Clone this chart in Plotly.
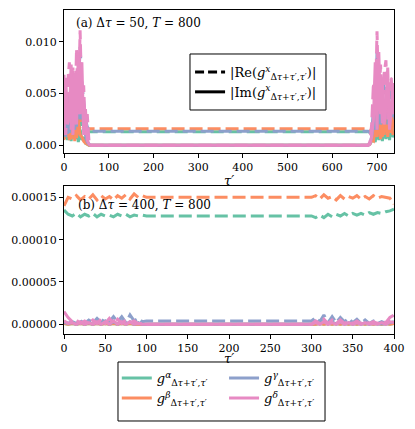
import plotly.graph_objects as go

# panel (a): Delta tau = 50, T = 800
tau_a = [0, 4, 8, 12, 16, 20, 24, 28, 32, 36, 40, 44, 48, 52, 56, 60,
         100, 200, 300, 400, 500, 600, 650,
         680, 684, 688, 692, 696, 700, 704, 708, 712, 716, 720, 724, 728, 732, 736, 740]

green_re_a = [0.0025, 0.0006, 0.0021, 0.0009, 0.0026, 0.0011, 0.0023, 0.0006, 0.0030, 0.0012, 0.0025, 0.0018, 0.0015, 0.0013, 0.0013, 0.0013,
              0.0013, 0.0013, 0.0013, 0.0013, 0.0013, 0.0013, 0.0013,
              0.0013, 0.0012, 0.0010, 0.0018, 0.0008, 0.0024, 0.0012, 0.0028, 0.0006, 0.0022, 0.0030, 0.0010, 0.0026, 0.0015, 0.0008, 0.0020]
orange_re_a = [0.0019, 0.0010, 0.0023, 0.0005, 0.0021, 0.0030, 0.0004, 0.0026, 0.0012, 0.0029, 0.0020, 0.0016, 0.0016, 0.0016, 0.0016, 0.0016,
               0.0016, 0.0016, 0.0016, 0.0016, 0.0016, 0.0016, 0.0016,
               0.0016, 0.0015, 0.0013, 0.0022, 0.0009, 0.0030, 0.0014, 0.0025, 0.0008, 0.0032, 0.0020, 0.0012, 0.0035, 0.0018, 0.0010, 0.0028]
blue_re_a = [0.0021, 0.0045, 0.0011, 0.0050, 0.0030, 0.0061, 0.0015, 0.0070, 0.0050, 0.0095, 0.0060, 0.0040, 0.0025, 0.0018, 0.0014, 0.00135,
             0.00135, 0.00135, 0.00135, 0.00135, 0.00135, 0.00135, 0.00135,
             0.00135, 0.0012, 0.0011, 0.0035, 0.0015, 0.0090, 0.0030, 0.0060, 0.0025, 0.0065, 0.0070, 0.0020, 0.0055, 0.0050, 0.0025, 0.0045]
pink_re_a = [0.0068, 0.0010, 0.0060, 0.0080, 0.0015, 0.0075, 0.0020, 0.0093, 0.0030, 0.0111, 0.0040, 0.0058, 0.0010, 0.0030, 0.0003, 0.0,
             0.0, 0.0, 0.0, 0.0, 0.0, 0.0, 0.0,
             0.0, 0.0003, 0.0020, 0.0060, 0.0030, 0.0110, 0.0040, 0.0078, 0.0020, 0.0070, 0.0082, 0.0025, 0.0065, 0.0064, 0.0030, 0.0055]

green_im_a = [0.0008, 0.0020, 0.0005, 0.0018, 0.0004, 0.0022, 0.0006, 0.0020, 0.0003, 0.0015, 0.0005, 0.0008, 0.0002, 0.0001, 0.0, 0.0,
              0.0, 0.0, 0.0, 0.0, 0.0, 0.0, 0.0,
              0.0, 0.0001, 0.0004, 0.0010, 0.0003, 0.0018, 0.0005, 0.0015, 0.0004, 0.0020, 0.0006, 0.0018, 0.0005, 0.0022, 0.0008, 0.0012]
orange_im_a = [0.0005, 0.0022, 0.0008, 0.0025, 0.0006, 0.0012, 0.0028, 0.0007, 0.0024, 0.0010, 0.0008, 0.0004, 0.0002, 0.0001, 0.0, 0.0,
               0.0, 0.0, 0.0, 0.0, 0.0, 0.0, 0.0,
               0.0, 0.0001, 0.0005, 0.0004, 0.0020, 0.0008, 0.0030, 0.0006, 0.0028, 0.0010, 0.0035, 0.0008, 0.0025, 0.0012, 0.0040, 0.0015]
blue_im_a = [0.0030, 0.0008, 0.0042, 0.0012, 0.0048, 0.0015, 0.0055, 0.0018, 0.0070, 0.0025, 0.0050, 0.0015, 0.0010, 0.0003, 0.0001, 0.0,
             0.0, 0.0, 0.0, 0.0, 0.0, 0.0, 0.0,
             0.0, 0.0002, 0.0008, 0.0020, 0.0045, 0.0015, 0.0060, 0.0020, 0.0050, 0.0030, 0.0040, 0.0060, 0.0020, 0.0040, 0.0045, 0.0025]
pink_im_a = [0.0010, 0.0065, 0.0020, 0.0030, 0.0078, 0.0010, 0.0070, 0.0020, 0.0090, 0.0030, 0.0080, 0.0010, 0.0035, 0.0005, 0.0001, 0.0,
             0.0, 0.0, 0.0, 0.0, 0.0, 0.0, 0.0,
             0.0, 0.0001, 0.0008, 0.0025, 0.0080, 0.0015, 0.0090, 0.0030, 0.0060, 0.0020, 0.0040, 0.0075, 0.0015, 0.0035, 0.0060, 0.0040]

# panel (b): Delta tau = 400, T = 800
tau_b = [0, 5, 10, 15, 20, 25, 30, 35, 40, 45, 50, 55, 60, 65, 70, 75, 80, 85, 90, 95, 100,
         150, 200, 250,
         300, 305, 310, 315, 320, 325, 330, 335, 340, 345, 350, 355, 360, 365, 370, 375, 380, 385, 390, 395, 400]

green_re_b = [1.35e-4, 1.30e-4, 1.28e-4, 1.31e-4, 1.27e-4, 1.30e-4, 1.28e-4, 1.31e-4, 1.27e-4, 1.30e-4, 1.28e-4,
              1.29e-4, 1.27e-4, 1.30e-4, 1.28e-4, 1.30e-4, 1.27e-4, 1.29e-4, 1.28e-4, 1.29e-4, 1.28e-4,
              1.28e-4, 1.28e-4, 1.28e-4,
              1.28e-4, 1.26e-4, 1.29e-4, 1.26e-4, 1.30e-4, 1.27e-4, 1.30e-4, 1.28e-4, 1.31e-4, 1.28e-4, 1.31e-4,
              1.29e-4, 1.31e-4, 1.29e-4, 1.32e-4, 1.30e-4, 1.32e-4, 1.31e-4, 1.33e-4, 1.34e-4, 1.36e-4]
orange_re_b = [1.40e-4, 1.50e-4, 1.48e-4, 1.52e-4, 1.47e-4, 1.51e-4, 1.48e-4, 1.53e-4, 1.47e-4, 1.52e-4, 1.48e-4,
               1.51e-4, 1.47e-4, 1.52e-4, 1.49e-4, 1.53e-4, 1.48e-4, 1.54e-4, 1.50e-4, 1.52e-4, 1.50e-4,
               1.50e-4, 1.50e-4, 1.50e-4,
               1.50e-4, 1.52e-4, 1.48e-4, 1.53e-4, 1.49e-4, 1.51e-4, 1.47e-4, 1.52e-4, 1.48e-4, 1.51e-4, 1.49e-4,
               1.52e-4, 1.48e-4, 1.51e-4, 1.48e-4, 1.52e-4, 1.49e-4, 1.51e-4, 1.50e-4, 1.49e-4, 1.42e-4]
blue_re_b = [2e-6, 1e-6, 3e-6, 1e-6, 4e-6, 1e-6, 5e-6, 2e-6, 7e-6, 2e-6, 8e-6,
             3e-6, 9e-6, 3e-6, 9e-6, 2e-6, 11e-6, 4e-6, 7e-6, 3e-6, 4e-6,
             4e-6, 4e-6, 4e-6,
             4e-6, 8e-6, 3e-6, 11e-6, 2e-6, 9e-6, 2e-6, 8e-6, 3e-6, 7e-6, 2e-6,
             6e-6, 1e-6, 5e-6, 1e-6, 4e-6, 1e-6, 3e-6, 1e-6, 6e-6, 10e-6]
pink_re_b = [15e-6, 8e-6, 3e-6, 5e-6, 1e-6, 4e-6, 1e-6, 5e-6, 1e-6, 6e-6, 1e-6,
             7e-6, 1e-6, 6e-6, 1e-6, 5e-6, 2e-6, 4e-6, 1e-6, 1e-6, 0.0,
             0.0, 0.0, 0.0,
             0.0, 4e-6, 1e-6, 6e-6, 1e-6, 5e-6, 1e-6, 5e-6, 1e-6, 4e-6, 1e-6,
             4e-6, 1e-6, 3e-6, 1e-6, 3e-6, 1e-6, 3e-6, 2e-6, 8e-6, 11e-6]

green_im_b = [1e-6, 0.0, 1e-6, 0.0, 1e-6, 0.0, 1e-6, 0.0, 1e-6, 0.0, 1e-6,
              0.0, 1e-6, 0.0, 1e-6, 0.0, 1e-6, 0.0, 0.0, 0.0, 0.0,
              0.0, 0.0, 0.0,
              0.0, 0.0, 1e-6, 0.0, 1e-6, 0.0, 1e-6, 0.0, 1e-6, 0.0, 1e-6,
              0.0, 1e-6, 0.0, 1e-6, 0.0, 1e-6, 0.0, 1e-6, 0.0, 1e-6]
orange_im_b = [1e-6, 0.0, 1e-6, 0.0, 1e-6, 0.0, 1e-6, 0.0, 1e-6, 0.0, 1e-6,
               0.0, 1e-6, 0.0, 1e-6, 0.0, 1e-6, 0.0, 0.0, 0.0, 0.0,
               0.0, 0.0, 0.0,
               0.0, 0.0, 1e-6, 0.0, 1e-6, 0.0, 1e-6, 0.0, 1e-6, 0.0, 1e-6,
               0.0, 1e-6, 0.0, 1e-6, 0.0, 1e-6, 0.0, 1e-6, 0.0, 1e-6]
blue_im_b = [3e-6, 1e-6, 2e-6, 0.0, 3e-6, 0.0, 2e-6, 0.0, 3e-6, 0.0, 4e-6,
             0.0, 3e-6, 0.0, 4e-6, 0.0, 3e-6, 0.0, 2e-6, 0.0, 0.0,
             0.0, 0.0, 0.0,
             0.0, 3e-6, 0.0, 4e-6, 0.0, 3e-6, 0.0, 3e-6, 0.0, 2e-6, 0.0,
             2e-6, 0.0, 2e-6, 0.0, 2e-6, 0.0, 1e-6, 0.0, 2e-6, 3e-6]
pink_im_b = [4e-6, 1e-6, 2e-6, 0.0, 3e-6, 0.0, 2e-6, 0.0, 3e-6, 0.0, 3e-6,
             0.0, 4e-6, 0.0, 3e-6, 0.0, 3e-6, 0.0, 1e-6, 0.0, 0.0,
             0.0, 0.0, 0.0,
             0.0, 2e-6, 0.0, 3e-6, 0.0, 2e-6, 0.0, 3e-6, 0.0, 2e-6, 0.0,
             2e-6, 0.0, 2e-6, 0.0, 1e-6, 0.0, 2e-6, 0.0, 3e-6, 2e-6]

colors = ["#66c2a5", "#fc8d62", "#8da0cb", "#e78ac3"]
labels = ["α", "β", "γ", "δ"]
series_a = [(green_re_a, green_im_a), (orange_re_a, orange_im_a),
            (blue_re_a, blue_im_a), (pink_re_a, pink_im_a)]
series_b = [(green_re_b, green_im_b), (orange_re_b, orange_im_b),
            (blue_re_b, blue_im_b), (pink_re_b, pink_im_b)]

SERIF = "DejaVu Serif, Liberation Serif, serif"
SUB = "<sub>Δ<i>τ</i>+<i>τ</i>′,<i>τ</i>′</sub>"
DASH = "13px,5px"
LW = 3

fig = go.Figure()

for (re, im), c in zip(series_a, colors):
    fig.add_trace(go.Scatter(x=tau_a, y=re, mode="lines", showlegend=False,
                             line=dict(color=c, width=LW, dash=DASH), xaxis="x", yaxis="y"))
    fig.add_trace(go.Scatter(x=tau_a, y=im, mode="lines", showlegend=False,
                             line=dict(color=c, width=LW), xaxis="x", yaxis="y"))

for (re, im), c in zip(series_b, colors):
    fig.add_trace(go.Scatter(x=tau_b, y=re, mode="lines", showlegend=False,
                             line=dict(color=c, width=LW, dash=DASH), xaxis="x2", yaxis="y2"))
    fig.add_trace(go.Scatter(x=tau_b, y=im, mode="lines", showlegend=False,
                             line=dict(color=c, width=LW), xaxis="x2", yaxis="y2"))

# line-style legend (panel a)
fig.add_trace(go.Scatter(x=[None], y=[None], mode="lines", legend="legend",
                         name="|Re(<i>g</i><sup><i>x</i></sup>" + SUB + ")|",
                         line=dict(color="black", width=LW, dash="9px,4px")))
fig.add_trace(go.Scatter(x=[None], y=[None], mode="lines", legend="legend",
                         name="|Im(<i>g</i><sup><i>x</i></sup>" + SUB + ")|",
                         line=dict(color="black", width=LW)))

# colour legend (below), two columns
for idx, (c, lab) in enumerate(zip(colors, labels)):
    fig.add_trace(go.Scatter(x=[None], y=[None], mode="lines",
                             legend="legend2" if idx in (0, 1) else "legend3",
                             name="<i>g</i><sup><i>" + lab + "</i></sup>" + SUB,
                             line=dict(color=c, width=LW)))

axis_common = dict(showline=True, linecolor="black", linewidth=1, mirror=True,
                   ticks="outside", ticklen=4, tickcolor="black", showgrid=False,
                   zeroline=False, automargin=False,
                   tickfont=dict(family=SERIF, size=11, color="black"))

no_bg = "rgba(0,0,0,0)"

# the page body adds an 8px offset, so the figure is 8px smaller than the window
fig.update_layout(
    width=407, height=421,
    margin=dict(l=56, r=21, t=2, b=95),
    paper_bgcolor="white", plot_bgcolor="white",
    font=dict(family=SERIF, size=12, color="black"),
    xaxis=dict(domain=[0, 1], anchor="y", range=[0, 738], tickvals=[0, 100, 200, 300, 400, 500, 600, 700],
               **axis_common),
    yaxis=dict(domain=[0.5586, 1], anchor="x", range=[-0.00075, 0.01306],
               tickvals=[0, 0.005, 0.010], tickformat=".3f", **axis_common),
    xaxis2=dict(domain=[0, 1], anchor="y2", range=[0, 400], tickvals=[0, 50, 100, 150, 200, 250, 300, 350, 400],
                **axis_common),
    yaxis2=dict(domain=[0, 0.4568], anchor="x2", range=[-0.0000115, 0.0001634],
                tickvals=[0, 0.00005, 0.00010, 0.00015], tickformat=".5f", **axis_common),
    legend=dict(x=0.382, y=0.7778, xanchor="left", yanchor="middle", bgcolor=no_bg,
                borderwidth=0, font=dict(family=SERIF, size=13)),
    legend2=dict(x=0.16, y=-0.09, xanchor="left", yanchor="top", bgcolor=no_bg,
                 borderwidth=0, font=dict(family=SERIF, size=13)),
    legend3=dict(x=0.485, y=-0.09, xanchor="left", yanchor="top", bgcolor=no_bg,
                 borderwidth=0, font=dict(family=SERIF, size=13)),
    shapes=[
        dict(type="rect", xref="paper", yref="paper", x0=0.3818, x1=0.7939, y0=0.6914, y1=0.8642,
             line=dict(color="black", width=1), fillcolor="white", layer="above"),
        dict(type="rect", xref="paper", yref="paper", x0=0.1636, x1=0.791, y0=-0.2685, y1=-0.0864,
             line=dict(color="black", width=1), fillcolor=no_bg, layer="below"),
    ],
    annotations=[
        dict(text="(a) Δ<i>τ</i> = 50, <i>T</i> = 800", xref="x domain", yref="y domain",
             x=0.03, y=0.97, xanchor="left", yanchor="top", showarrow=False,
             font=dict(family=SERIF, size=12)),
        dict(text="(b) Δ<i>τ</i> = 400, <i>T</i> = 800", xref="x2 domain", yref="y2 domain",
             x=0.035, y=0.93, xanchor="left", yanchor="top", showarrow=False,
             font=dict(family=SERIF, size=12)),
        dict(text="τ′", xref="x domain", yref="y domain", x=0.5, y=-0.19,
             xanchor="center", yanchor="middle", showarrow=False,
             font=dict(family=SERIF, size=13, style="italic")),
        dict(text="τ′", xref="x2 domain", yref="y2 domain", x=0.5, y=-0.165,
             xanchor="center", yanchor="middle", showarrow=False,
             font=dict(family=SERIF, size=13, style="italic")),
    ],
)

fig.write_html("out.html")
